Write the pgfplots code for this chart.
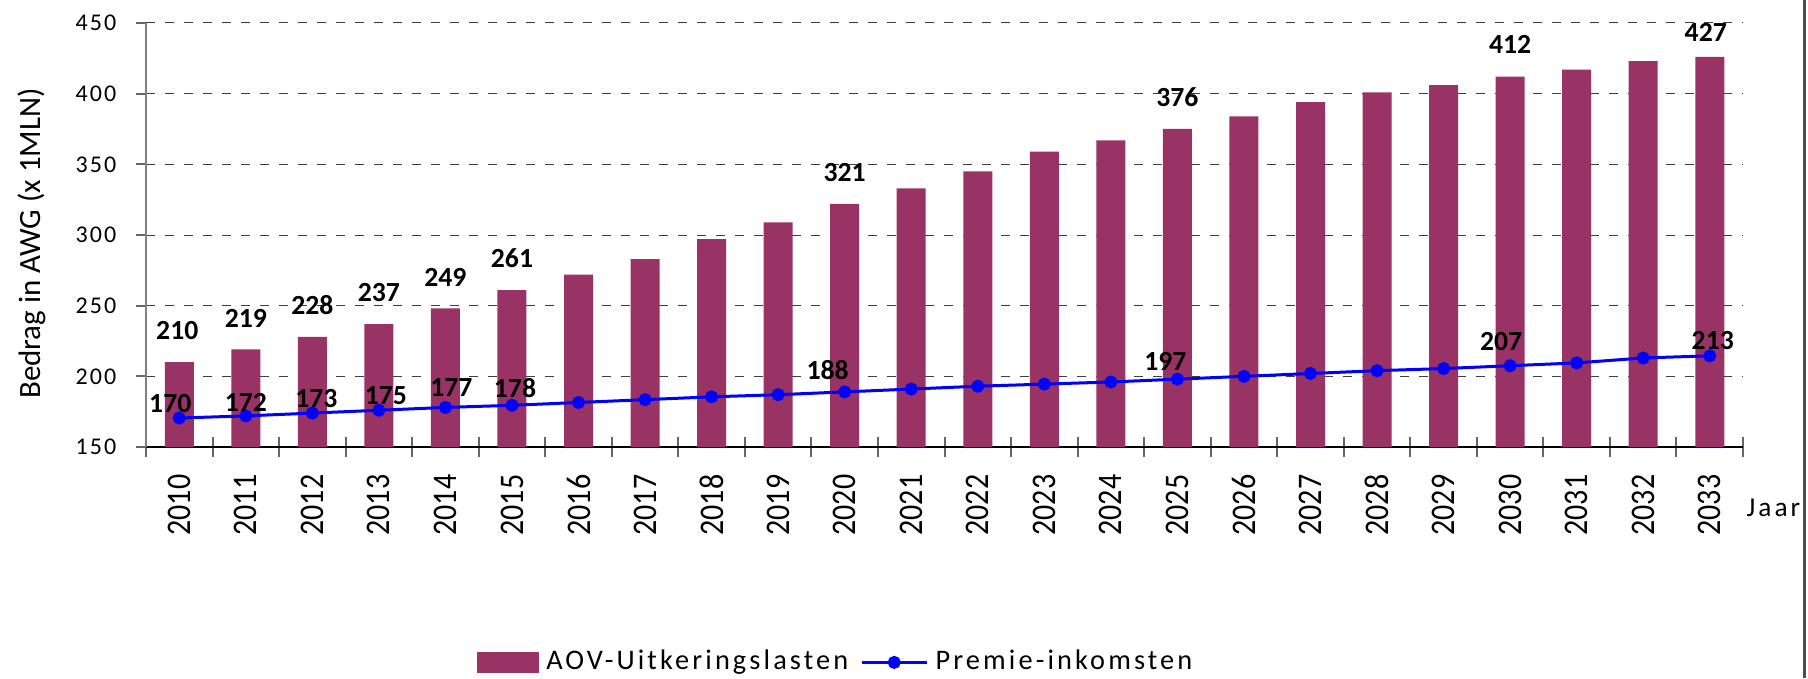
\documentclass[border=0pt]{standalone}
\usepackage{fontspec}
\usepackage{graphicx}
\usepackage{pgfplots}
\pgfplotsset{compat=1.18}
\setmainfont{Carlito}
\newfontfamily\lsfont{Carlito}[LetterSpace=11]
\newfontfamily\tkfont{Carlito}[LetterSpace=9]
\definecolor{barc}{HTML}{993366}
\newcommand\tickfont{\tkfont\fontsize{7.2}{8}\selectfont}
\newcommand\labfont{\bfseries\fontsize{8.3}{9}\selectfont}
\newcommand\legfont{\lsfont\fontsize{8.5}{9}\selectfont}
\newcommand\jaarfont{\lsfont\fontsize{8.2}{9}\selectfont}
\begin{document}
\begin{tikzpicture}
\useasboundingbox (0,0) rectangle (542.4pt,203.4pt);
\begin{axis}[
  at={(43.8pt,69.3pt)}, anchor=south west,
  scale only axis, width=479.1pt, height=127.2pt,
  xmin=2009.5, xmax=2033.5, ymin=150, ymax=450,
  axis lines=left, axis line style={-},
  x axis line style={black, line width=0.6pt},
  y axis line style={black!50, line width=0.6pt},
  xtick={2010,...,2033},
  minor xtick={2009.5,2010.5,...,2033.5},
  xtick align=center, ytick align=outside,
  major tick length=3pt, minor tick length=6pt,
  major x tick style={draw=none},
  minor x tick style={draw=black!60, line width=0.6pt},
  major y tick style={draw=black!60, line width=0.6pt},
  ytick={150,200,...,450},
  ymajorgrids,
  major grid style={dash pattern=on 2.7pt off 3pt, black!75, line width=0.3pt},
  /pgf/number format/assume math mode=true,
  xticklabel={\scalebox{1}[1.15]{\fontsize{9}{9}\selectfont\pgfmathprintnumber[fixed,precision=0,1000 sep={}]{\tick}}},
  xticklabel style={inner sep=0pt, rotate=90, anchor=east},
  xticklabel shift=6.6pt,
  yticklabel style={font=\tickfont, inner sep=0pt, anchor=east},
  yticklabel shift=5.7pt,
  xlabel={Jaar},
  xlabel style={font=\jaarfont, at={(axis description cs:1.0019,-0.144)}, anchor=west, inner sep=0pt},
  ylabel={Bedrag in AWG (x 1MLN)},
  ylabel style={font=\fontsize{9.3}{10}\selectfont, at={(axis description cs:-0.0714,0.48)}, anchor=center, inner sep=0pt},
  legend columns=2,
  legend style={at={(axis description cs:0.207,-0.508)}, anchor=west, draw=none, fill=none,
    inner sep=0pt, outer sep=0pt, row sep=0pt,
    nodes={inner sep=0pt, font=\legfont},
    /tikz/every odd column/.style={column sep=2.2pt},
    /tikz/every even column/.style={column sep=3.6pt}},
]
\addplot[ybar, bar width=8.7pt, bar shift=0pt, fill=barc, draw=none,
  legend image code/.code={\fill[barc] (0pt,-3.15pt) rectangle (18.7pt,3.15pt);}]
  table[x=x,y=y] {
x y
2010 210
2011 219
2012 228
2013 237
2014 248
2015 261
2016 272
2017 283
2018 297
2019 309
2020 322
2021 333
2022 345
2023 359
2024 367
2025 375
2026 384
2027 394
2028 401
2029 406
2030 412
2031 417
2032 423
2033 426
};
\addlegendentry{AOV-Uitkeringslasten}
\addplot[blue, line width=0.9pt, mark=*, mark size=1.5pt, mark options={solid, fill=blue, draw=blue},
  legend image code/.code={\draw[blue, line width=0.9pt] (0pt,0pt) -- (19.5pt,0pt); \fill[blue] (9.75pt,0pt) circle (1.5pt);}]
  table[x=x,y=y] {
x y
2010 170.5
2011 172
2012 174
2013 176
2014 178
2015 179.5
2016 181.5
2017 183.5
2018 185.5
2019 187
2020 189
2021 191
2022 193
2023 194.5
2024 196
2025 198
2026 200
2027 202
2028 204
2029 205.5
2030 207.5
2031 209.5
2032 213
2033 214.5
};
\addlegendentry{Premie-inkomsten}
% bar value labels
\addplot[forget plot, draw=none, mark=none, nodes near coords, point meta=explicit symbolic,
  visualization depends on={\thisrow{dx} \as \dx},
  visualization depends on={\thisrow{dy} \as \dy},
  nodes near coords style={font=\labfont, anchor=base, inner sep=0pt, xshift={0.3pt*\dx}, yshift={0.3pt*\dy}}]
  table[x=x,y=y,meta=lab] {
x y lab dx dy
2010 210 210 -2 23
2011 219 219 0 22.3
2012 228 228 0 22.5
2013 237 237 0 22.5
2014 248 249 0 22
2015 261 261 0 23
2020 322 321 0 22
2025 375 376 0 22.3
2030 412 412 0 23.7
2033 426 427 -4 15
};
% premium labels
\addplot[forget plot, draw=none, mark=none, nodes near coords, point meta=explicit symbolic,
  visualization depends on={\thisrow{dx} \as \dx},
  visualization depends on={\thisrow{dy} \as \dy},
  nodes near coords style={font=\labfont, anchor=base, inner sep=0pt, xshift={0.3pt*\dx}, yshift={0.3pt*\dy}}]
  table[x=x,y=y,meta=lab] {
x y lab dx dy
2010 170.5 170 -9 6
2011 172 172 0 4
2012 174 173 4 6
2013 176 175 7 6
2014 178 177 6 10.7
2015 179.5 178 3 8
2020 189 188 -17 12.7
2025 198 197 -12 9
2030 207.5 207 -9 15.7
2033 214.5 213 3 6
};
\end{axis}
\draw[black!70, line width=0.9pt] (541.2pt,0pt) -- (541.2pt,203.4pt);
\end{tikzpicture}
\end{document}
